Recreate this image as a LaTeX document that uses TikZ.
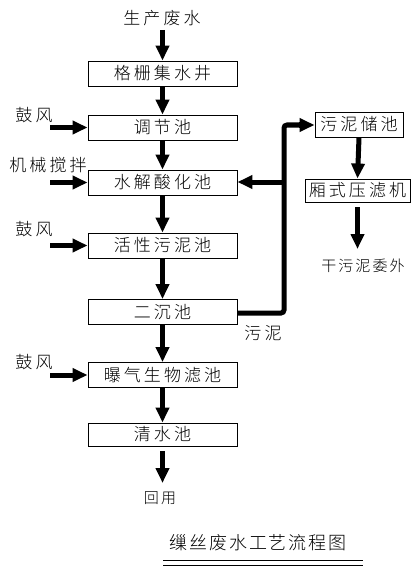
\documentclass[tikz,border=0pt]{standalone}
\usepackage{fontspec}
\newfontfamily\cjk[LetterSpace=18]{Noto Sans CJK SC Light}
\newfontfamily\cjksmall[LetterSpace=14]{Noto Sans CJK SC Light}
\newfontfamily\cjktitle[LetterSpace=11]{Noto Sans CJK SC Light}
\usetikzlibrary{arrows.meta}
\tikzset{
  box/.style={draw, line width=0.9pt, minimum width=149pt, minimum height=25pt, inner sep=0pt, font=\fontsize{17pt}{17pt}\cjk},
  lbl/.style={inner sep=0pt, font=\fontsize{17pt}{17pt}\cjk},
  slbl/.style={inner sep=0pt, font=\fontsize{15pt}{15pt}\cjksmall},
  flow/.style={line width=5pt, -{Triangle[length=15pt,width=13pt]}},
  pipe/.style={line width=5pt, rounded corners=3pt},
}
\begin{document}
\begin{tikzpicture}[x=1pt,y=-1pt]
\useasboundingbox (0,0) rectangle (419,583);
% left column boxes
\node[box] (g1) at (162.5,73.5) {格栅集水井};
\node[box] (g2) at (162.5,127.5) {调节池};
\node[box] (g3) at (162.5,182.5) {水解酸化池};
\node[box] (g4) at (162.5,245.5) {活性污泥池};
\node[box] (g5) at (162.5,312) {二沉池};
\node[box] (g6) at (162.5,375) {曝气生物滤池};
\node[box, minimum height=23pt] (g7) at (162.5,434.5) {清水池};
% right column boxes
\node[box, minimum width=88pt] (r1) at (359,124.5) {污泥储池};
\node[box, minimum width=105pt, minimum height=23pt] (r2) at (357.5,190.5) {厢式压滤机};
% labels
\node[lbl] (src) at (162,18) {生产废水};
\node[lbl] (a1) at (34,115) {鼓风};
\node[lbl] (m1) at (48,165) {机械搅拌};
\node[lbl] (a2) at (34,229) {鼓风};
\node[lbl] (a3) at (34,362) {鼓风};
\node[lbl] (sl) at (263,333) {污泥};
\node[slbl] (reuse) at (160,498) {回用};
\node[slbl] (dry) at (363,266) {干污泥委外};
\node[inner sep=0pt, font=\fontsize{18pt}{18pt}\cjktitle] (title) at (258,543) {缫丝废水工艺流程图};
% coordinates
\coordinate (srcend) at (162.5,30);
\coordinate (a1s) at (50,127.5);
\coordinate (m1s) at (50,182.5);
\coordinate (a2s) at (50,245.5);
\coordinate (a3s) at (50,375);
\coordinate (reuseend) at (162.5,483);
\coordinate (dryend) at (357.5,249);
\coordinate (p1) at (284,313);
\coordinate (p2) at (284,125);
\coordinate (pb) at (284,182);
\coordinate (r2b) at (357.5,207);
\coordinate (g7b) at (162.5,451);
% main flow
\draw[flow] (srcend) -- (g1.north);
\draw[flow] (g1.south) -- (g2.north);
\draw[flow] (g2.south) -- (g3.north);
\draw[flow] (g3.south) -- (g4.north);
\draw[flow] (g4.south) -- (g5.north);
\draw[flow] (g5.south) -- (g6.north);
\draw[flow] (g6.south) -- (g7.north);
\draw[flow] (g7b) -- (reuseend);
% side inputs
\draw[flow] (a1s) -- (g2.west);
\draw[flow] (m1s) -- (g3.west);
\draw[flow] (a2s) -- (g4.west);
\draw[flow] (a3s) -- (g6.west);
% sludge line
\draw[pipe] (g5.east |- p1) -- (p1) -- (p2) -- ([xshift=-15pt]r1.west |- p2);
\draw[flow] ([xshift=-16pt]r1.west |- p2) -- (r1.west |- p2);
\draw[flow] (pb) -- (g3.east |- pb);
\draw[flow] (r1.south) -- (r2.north);
\draw[flow] (r2b) -- (dryend);
% title underline
\draw[line width=0.9pt] (163,560) -- (363,560);
\draw[line width=0.9pt] (163,565) -- (363,565);
\end{tikzpicture}
\end{document}
